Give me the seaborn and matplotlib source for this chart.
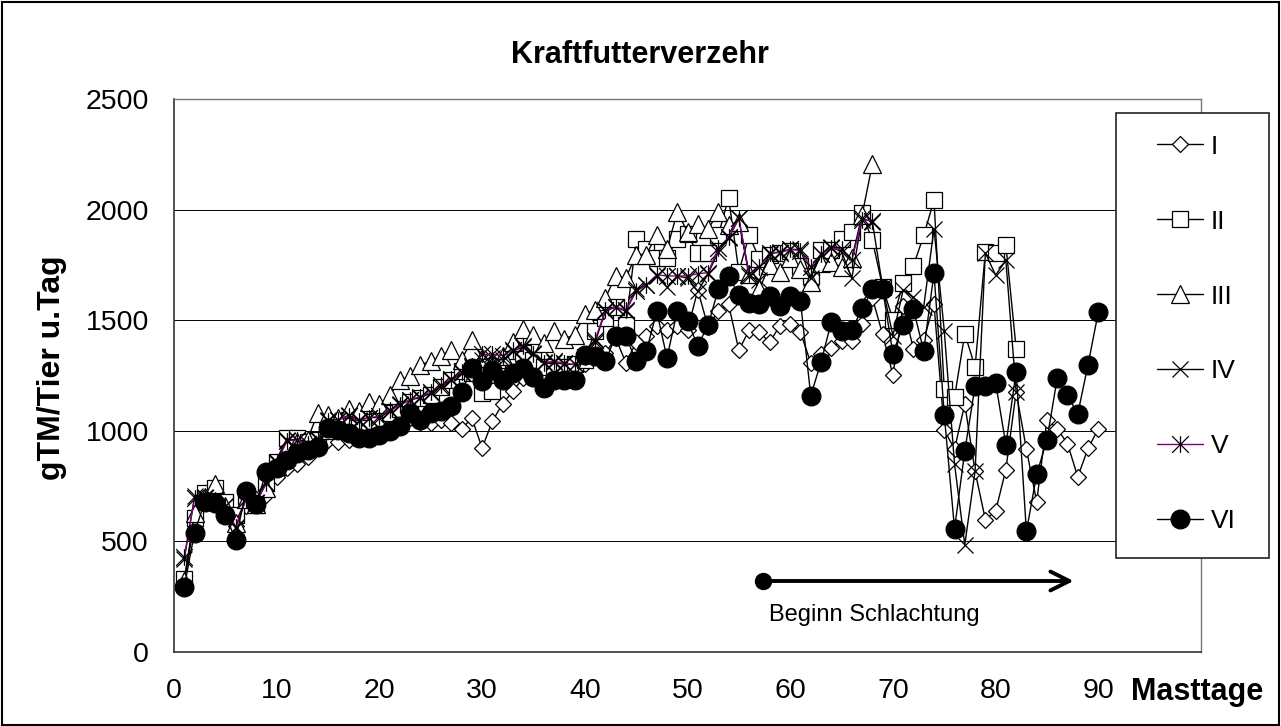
import numpy as np
import pandas as pd
import matplotlib
matplotlib.use("Agg")
import matplotlib.pyplot as plt
from matplotlib.lines import Line2D
from matplotlib.path import Path
from matplotlib.patches import Rectangle
import seaborn as sns

# ---------------- data ----------------
series_names = ["I", "II", "III", "IV", "V", "VI"]
days = list(range(1, 91))

vals_I = [310, 600, 690, 750, 670, 570, 660, 690, 710, 790,
          830, 850, 880, 920, 960, 950, 960, 980, 1000, 1010,
          1030, 1060, 1060, 1040, 1035, 1050, 1035, 1008, 1058, 922,
          1043, 1123, 1178, 1240, 1270, 1230, 1260, 1250, 1280, 1300,
          1380, 1350, 1420, 1307, 1400, 1430, 1473, 1455, 1473, 1455,
          1636, 1470, 1541, 1571, 1364, 1455, 1446, 1400, 1476, 1485,
          1446, 1307, 1349, 1375, 1405, 1405, 1485, 1600, 1436, 1252,
          1566, 1369, 1411, 1573, 1004, 917, 1121, 817, 599, 636,
          825, 1176, 917, 679, 1051, 1009, 942, 792, 920, 1009]

vals_II = [330, 605, 718, 741, 680, 620, 707, 665, 764, 861,
           967, 967, 950, 960, 1000, 1020, 1050, 1030, 1040, 1050,
           1080, 1100, 1130, 1150, 1160, 1200, 1230, 1270, 1260, 1170,
           1180, 1250, 1290, 1350, 1320, 1290, 1270, 1290, 1300, 1320,
           1450, 1510, 1560, 1480, 1865, 1820, 1780, 1782, 1868, 1888,
           1802, 1805, 1883, 2054, 1720, 1883, 1778, 1797, 1805, 1812,
           1747, 1700, 1817, 1817, 1865, 1898, 1983, 1862, 1650, 1503,
           1670, 1746, 1883, 2042, 1188, 1151, 1439, 1289, 1808, 1805,
           1841, 1372]

vals_III = [320, 630, 700, 760, 660, 583, 690, 670, 740, 840,
            930, 950, 960, 1080, 1070, 1060, 1100, 1090, 1130, 1120,
            1160, 1230, 1246, 1299, 1314, 1337, 1367, 1320, 1412, 1330,
            1310, 1340, 1400, 1458, 1435, 1397, 1450, 1415, 1435, 1526,
            1548, 1600, 1699, 1690, 1797, 1797, 1887, 1820, 1988, 1900,
            1936, 1911, 1988, 1930, 1946, 1710, 1640, 1750, 1720, 1780,
            1731, 1673, 1760, 1761, 1740, 1780, 1975, 2206]

vals_IV = [420, 703, 700, 690, 660, 560, 690, 680, 764, 861,
           960, 960, 940, 960, 1050, 1050, 1070, 1050, 1060, 1060,
           1090, 1120, 1140, 1150, 1170, 1200, 1230, 1260, 1290, 1320,
           1330, 1320, 1360, 1380, 1350, 1310, 1310, 1300, 1300, 1330,
           1400, 1540, 1560, 1540, 1640, 1660, 1700, 1650, 1700, 1690,
           1630, 1710, 1810, 1870, 1960, 1700, 1680, 1800, 1810, 1820,
           1820, 1690, 1800, 1830, 1810, 1690, 1960, 1945, 1650, 1430,
           1637, 1603, 1560, 1913, 1453, 850, 485, 817, 1804, 1704,
           1770, 1176]

vals_V = [430, 695, 695, 685, 660, 565, 690, 675, 764, 855,
          955, 958, 940, 965, 1045, 1050, 1065, 1045, 1060, 1065,
          1095, 1115, 1140, 1155, 1175, 1205, 1235, 1265, 1295, 1345,
          1345, 1340, 1365, 1385, 1345, 1305, 1315, 1305, 1300, 1335,
          1410, 1545, 1560, 1545, 1630, 1660, 1705, 1700, 1700, 1700,
          1710, 1715, 1825, 1875, 1960, 1710, 1740, 1805, 1805, 1820,
          1815, 1740, 1800, 1825, 1820, 1770, 1955, 1950]

vals_VI = [295, 540, 680, 673, 620, 507, 726, 670, 816, 831,
           869, 900, 914, 929, 1013, 1005, 990, 967, 967, 982,
           997, 1020, 1082, 1050, 1080, 1088, 1110, 1174, 1284, 1224,
           1277, 1231, 1262, 1284, 1244, 1194, 1231, 1231, 1231, 1344,
           1337, 1314, 1427, 1427, 1314, 1359, 1541, 1330, 1541, 1495,
           1385, 1477, 1639, 1702, 1612, 1578, 1575, 1608, 1563, 1608,
           1586, 1159, 1310, 1491, 1450, 1455, 1553, 1639, 1642, 1349,
           1478, 1550, 1361, 1712, 1073, 557, 909, 1202, 1202, 1218,
           937, 1268, 545, 803, 959, 1238, 1160, 1076, 1299, 1536]

all_vals = [vals_I, vals_II, vals_III, vals_IV, vals_V, vals_VI]

x_ticks = [0, 10, 20, 30, 40, 50, 60, 70, 80, 90, 100]
x_ticklabels = ["0", "10", "20", "30", "40", "50", "60", "70", "80", "90", ""]
y_ticks = [0, 500, 1000, 1500, 2000, 2500]

# ---------------- style ----------------
sns.set_style("white")
plt.rcParams['font.family'] = ['Liberation Sans', 'DejaVu Sans']
plt.rcParams['text.color'] = 'black'
plt.rcParams['axes.labelcolor'] = 'black'
plt.rcParams['xtick.color'] = 'black'
plt.rcParams['ytick.color'] = 'black'

asterisk = Path([(-0.5, -0.5), (0.5, 0.5), (-0.5, 0.5), (0.5, -0.5), (0, -0.5), (0, 0.5)],
                [Path.MOVETO, Path.LINETO, Path.MOVETO, Path.LINETO, Path.MOVETO, Path.LINETO])

styles = {
    "I":   dict(color="black", marker="D", markersize=8.2, markerfacecolor="white", markeredgecolor="black"),
    "II":  dict(color="black", marker="s", markersize=12, markerfacecolor="white", markeredgecolor="black"),
    "III": dict(color="black", marker="^", markersize=13, markerfacecolor="white", markeredgecolor="black"),
    "IV":  dict(color="black", marker="x", markersize=12, markerfacecolor="none", markeredgecolor="black"),
    "V":   dict(color="#800080", marker=asterisk, markersize=12, markerfacecolor="none", markeredgecolor="black"),
    "VI":  dict(color="black", marker="o", markersize=13.5, markerfacecolor="black", markeredgecolor="black"),
}

W, H = 1281, 726
fig = plt.figure(figsize=(W / 100, H / 100), dpi=100)
ax = fig.add_axes([174 / W, (H - 652) / H, (1201 - 174) / W, (652 - 99) / H])

for name, vals in zip(series_names, all_vals):
    df = pd.DataFrame({"Masttage": days[:len(vals)], "gTM": vals})
    st = styles[name]
    sns.lineplot(data=df, x="Masttage", y="gTM", ax=ax, estimator=None, errorbar=None,
                 sort=False, legend=False, linewidth=1.0, markeredgewidth=0.9, **st)

ax.set_xlim(0, 100)
ax.set_ylim(0, 2500)
ax.set_xticks(x_ticks)
ax.set_xticklabels(x_ticklabels)
ax.set_yticks(y_ticks)
ax.set_xlabel("")
ax.set_ylabel("")
ax.tick_params(axis="x", direction="out", length=7, width=1, pad=12, labelsize=20.5)
ax.tick_params(axis="y", direction="out", length=7, width=1, pad=11, labelsize=20.5)
ax.yaxis.grid(True, color="black", linewidth=0.7)
ax.xaxis.grid(False)
ax.set_axisbelow(True)
for s in ["left", "bottom"]:
    ax.spines[s].set_color("#333333")
    ax.spines[s].set_linewidth(1.2)
for s in ["top", "right"]:
    ax.spines[s].set_color("#777777")
    ax.spines[s].set_linewidth(1.0)

# annotation: Beginn Schlachtung
ax.annotate("", xy=(87.6, 321), xytext=(57.4, 321),
            arrowprops=dict(arrowstyle="->", lw=2.8, color="black", mutation_scale=34,
                            shrinkA=0, shrinkB=0))
ax.plot([57.4], [321], marker="o", markersize=11.5, color="black", zorder=5)
ax.text(68.2, 167, "Beginn Schlachtung", ha="center", va="center", fontsize=17)

# texts
fig.text(640 / W, 1 - 55 / H, "Kraftfutterverzehr", ha="center", va="center",
         fontsize=22, fontweight="bold")
fig.text(52 / W, 1 - 368 / H, "gTM/Tier u.Tag", ha="center", va="center", rotation=90,
         fontsize=23, fontweight="bold")
fig.text(1197 / W, 1 - 700 / H, "Masttage", ha="center", va="baseline",
         fontsize=22, fontweight="bold")

# legend box
rect = Rectangle((1116 / W, (H - 558) / H), (1269 - 1116) / W, (558 - 113) / H,
                 transform=fig.transFigure, facecolor="white", edgecolor="#222222",
                 linewidth=1.2, zorder=4)
fig.patches.append(rect)
handles = []
for name in series_names:
    st = styles[name]
    handles.append(Line2D([], [], linewidth=1.0, markeredgewidth=0.9, **st))
leg = fig.legend(handles, series_names, loc="center left",
                 bbox_to_anchor=(1157 / W, 1 - 334 / H), frameon=False, fontsize=19,
                 labelspacing=1.93, handlelength=1.75, handletextpad=0.3, borderpad=0,
                 borderaxespad=0)
leg.set_zorder(6)

# outer border
border = Rectangle((1.5 / W, 1.5 / H), (W - 4) / W, (H - 3.5) / H, transform=fig.transFigure,
                   fill=False, edgecolor="black", linewidth=1.5, zorder=10)
fig.patches.append(border)

fig.savefig("out.png", dpi=100)
